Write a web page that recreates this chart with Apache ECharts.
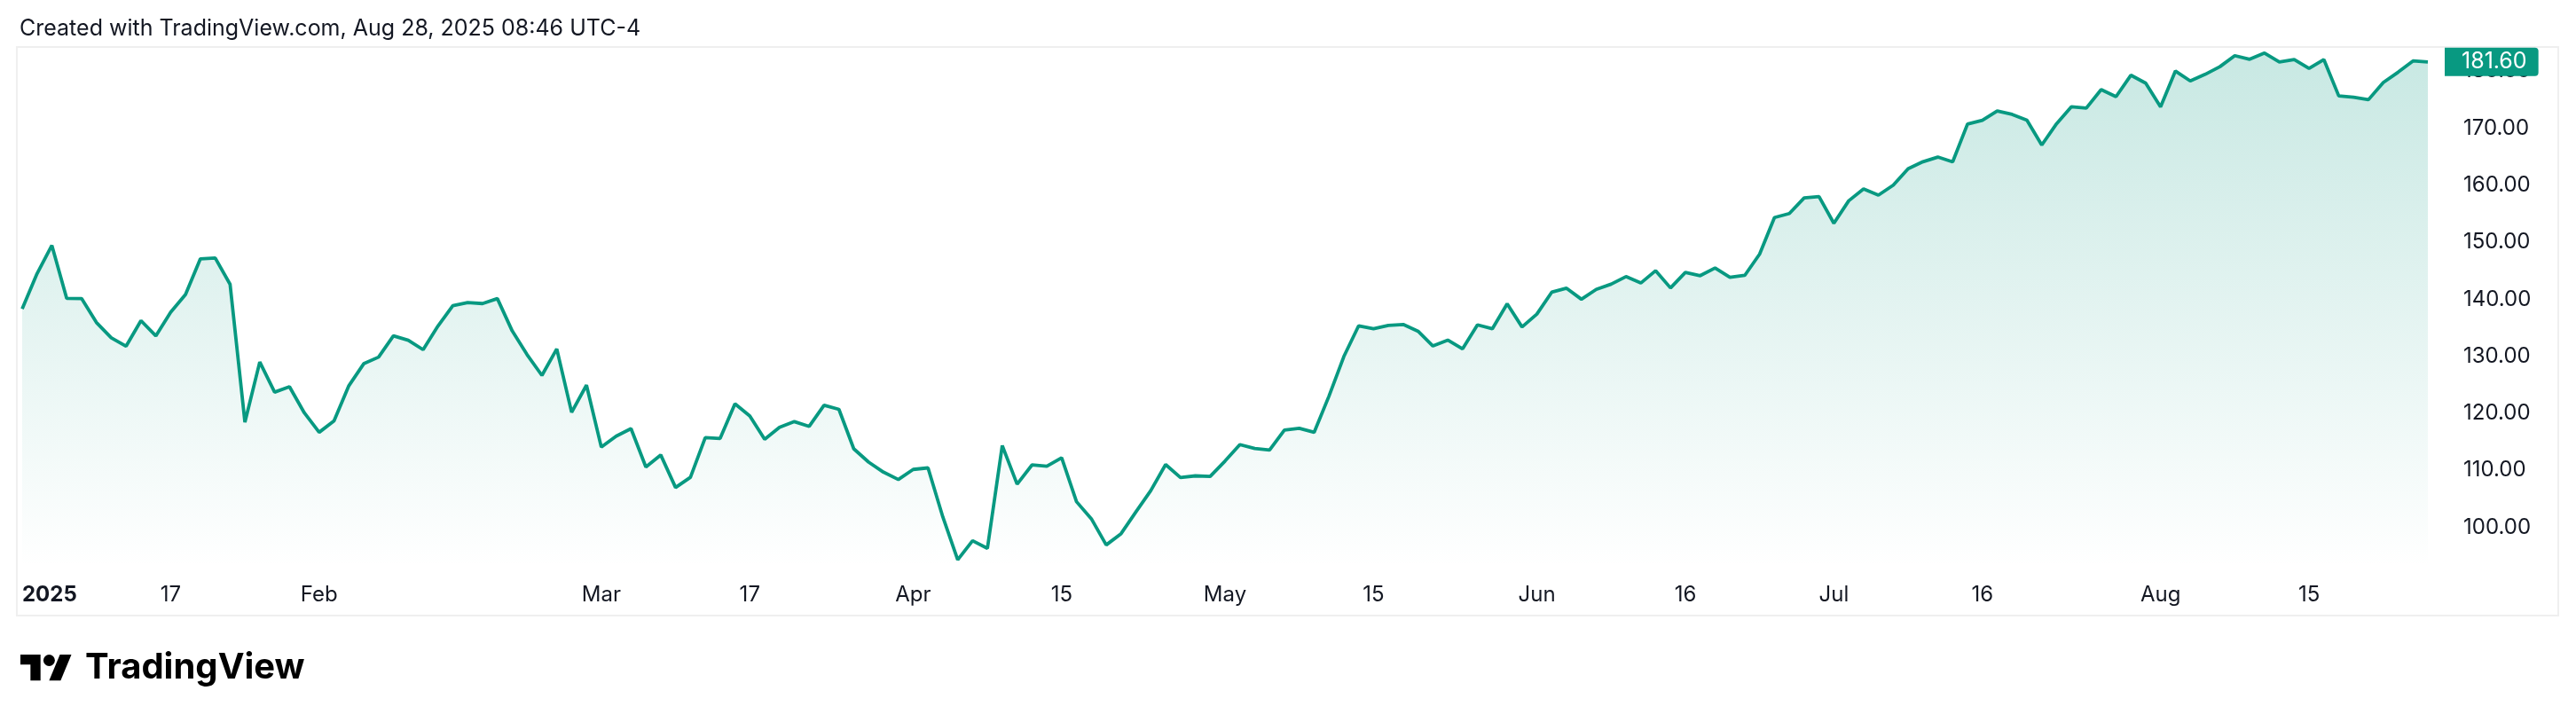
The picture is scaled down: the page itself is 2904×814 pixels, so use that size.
<!DOCTYPE html>
<html><head><meta charset="utf-8">
<script src="https://cdn.jsdelivr.net/npm/echarts@6/dist/echarts.min.js"></script>
<style>html,body{margin:0;padding:0;background:#fff}#c{width:2904px;height:814px}</style>
</head><body><div id="c"></div>
<script>
// ---- data ----
const monthNames = ['01','02','03','04','05','06','07','08'];
const tradingDays = [
  [2,3,6,7,8,10,13,14,15,16,17,21,22,23,24,27,28,29,30,31],
  [3,4,5,6,7,10,11,12,13,14,18,19,20,21,24,25,26,27,28],
  [3,4,5,6,7,10,11,12,13,14,17,18,19,20,21,24,25,26,27,28,31],
  [1,2,3,4,7,8,9,10,11,14,15,16,17,21,22,23,24,25,28,29,30],
  [1,2,5,6,7,8,9,12,13,14,15,16,19,20,21,22,23,27,28,29,30],
  [2,3,4,5,6,9,10,11,12,13,16,17,18,20,23,24,25,26,27,30],
  [1,2,3,7,8,9,10,11,14,15,16,17,18,21,22,23,24,25,28,29,30,31],
  [1,4,5,6,7,8,11,12,13,14,15,18,19,20,21,22,25,26,27]
];
const closes = [
  138.31,144.47,149.43,140.14,140.11,135.91,133.23,131.76,136.24,133.57,137.71,140.83,147.07,147.22,142.62,118.42,128.99,123.70,124.65,120.07,
  116.66,118.65,124.83,128.68,129.84,133.57,132.80,131.14,135.29,138.85,139.40,139.23,140.11,134.43,130.28,126.63,131.28,120.15,124.92,
  114.06,115.99,117.30,110.57,112.69,106.98,108.76,115.74,115.58,121.67,119.53,115.43,117.52,118.53,117.70,121.41,120.69,113.76,111.43,109.67,108.38,
  110.15,110.42,101.80,94.31,97.64,96.30,114.33,107.57,110.93,110.71,112.20,104.49,101.49,96.91,98.89,102.71,106.43,111.01,108.73,109.02,108.92,
  111.61,114.50,113.82,113.54,117.06,117.37,116.65,123.00,129.93,135.34,134.83,135.40,135.57,134.38,131.80,132.83,131.29,135.50,134.81,139.19,135.13,
  137.38,141.22,141.92,139.99,141.72,142.63,143.96,142.83,145.00,141.97,144.69,144.12,145.48,143.85,144.17,147.90,154.31,155.02,157.75,157.99,
  153.30,157.25,159.34,158.24,160.00,162.88,164.10,164.92,164.07,170.70,171.37,173.00,172.41,171.38,167.03,170.78,173.74,173.50,176.75,175.51,179.27,177.87,
  173.72,180.00,178.26,179.42,180.77,182.70,182.06,183.16,181.59,182.02,180.45,182.01,175.64,175.40,174.98,177.99,179.81,181.77,181.60
];
const tickDates = ['2025-01-02','2025-01-17','2025-02-03','2025-03-03','2025-03-17','2025-04-01','2025-04-15','2025-05-01','2025-05-15','2025-06-02','2025-06-16','2025-07-01','2025-07-16','2025-08-01','2025-08-15'];
const tickTexts = ['2025','17','Feb','Mar','17','Apr','15','May','15','Jun','16','Jul','16','Aug','15'];
const yMin = 90, yMax = 190, yStep = 10;
const headerText = 'Created with TradingView.com, Aug 28, 2025 08:46 UTC-4';
const brandText = 'TradingView';

// ---- build ----
const dates = [];
tradingDays.forEach((arr, m) => arr.forEach(d => dates.push('2025-' + monthNames[m] + '-' + String(d).padStart(2,'0'))));
const tickMap = {};
tickDates.forEach((d, i) => tickMap[d] = tickTexts[i]);

const FONT = 'Inter, "Noto Sans", sans-serif';
const TXT = '#131722';
const GREEN = '#089981';

// TradingView logo icon (36x28 viewbox) scaled
const s = 1.62, ox = 23, oy = 738 - 4 * s;
const P = pts => pts.map(p => [ox + p[0] * s, oy + p[1] * s]);

const chart = echarts.init(document.getElementById('c'));
chart.setOption({
  animation: false,
  backgroundColor: '#ffffff',
  grid: { left: 25, right: 167, top: 15.8, bottom: 155.2 },
  xAxis: {
    type: 'category', data: dates, boundaryGap: false,
    axisLine: { show: false }, axisTick: { show: false }, splitLine: { show: false },
    axisLabel: {
      interval: (i, v) => v in tickMap,
      formatter: v => (v === dates[0] ? '{b|' + tickMap[v] + '}' : tickMap[v]),
      color: TXT, fontSize: 24, fontFamily: FONT, margin: 0,
      alignMinLabel: 'left',
      rich: { b: { fontWeight: 'bold', fontSize: 24, color: TXT, fontFamily: FONT } }
    }
  },
  yAxis: {
    type: 'value', position: 'right', min: yMin, max: yMax, interval: yStep,
    axisLine: { show: false }, axisTick: { show: false }, splitLine: { show: false },
    axisLabel: {
      showMinLabel: false, showMaxLabel: false,
      formatter: v => v.toFixed(2), align: 'left', margin: 40,
      padding: [6, 0, 0, 0],
      color: TXT, fontSize: 24, fontFamily: FONT
    }
  },
  series: [{
    type: 'line', data: closes, symbol: 'none', z: 3,
    lineStyle: { color: GREEN, width: 3.8 },
    areaStyle: {
      color: new echarts.graphic.LinearGradient(0, 54, 0, 640, [
        { offset: 0, color: 'rgba(8,153,129,0.32)' },
        { offset: 1, color: 'rgba(8,153,129,0)' }
      ], true)
    },
    endLabel: {
      show: true, distance: 19, formatter: p => Number(p.value).toFixed(2),
      backgroundColor: GREEN, color: '#ffffff', fontSize: 25, fontFamily: FONT,
      padding: [4, 13, 3, 19], borderRadius: [0, 4, 4, 0]
    }
  }],
  graphic: [
    { type: 'rect', z: 0, silent: true, shape: { x: 19, y: 53, width: 2865, height: 641 },
      style: { fill: 'none', stroke: '#efefef', lineWidth: 2 } },
    { type: 'text', x: 22, y: 32, style: { text: headerText, font: '25px ' + FONT, fill: TXT, textVerticalAlign: 'middle', verticalAlign: 'middle' } },
    { type: 'polygon', shape: { points: P([[14,22],[7,22],[7,11],[0,11],[0,4],[14,4]]) }, style: { fill: '#000' } },
    { type: 'polygon', shape: { points: P([[28,22],[20,22],[27.5,4],[35.5,4]]) }, style: { fill: '#000' } },
    { type: 'circle', shape: { cx: ox + 20 * s, cy: oy + 8 * s, r: 4 * s }, style: { fill: '#000' } },
    { type: 'text', x: 96, y: 753, style: { text: brandText, font: 'bold 40px ' + FONT, fill: '#000', textVerticalAlign: 'middle', verticalAlign: 'middle' } }
  ]
});
</script></body></html>
